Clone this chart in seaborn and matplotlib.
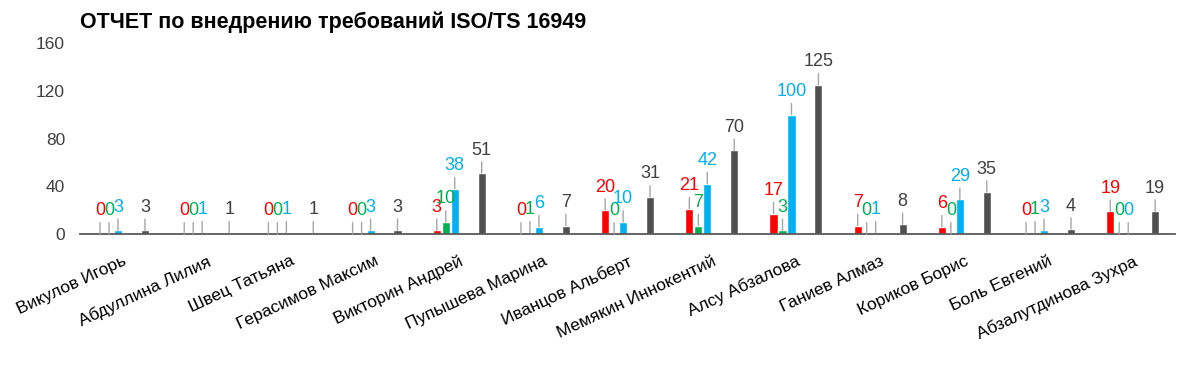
import pandas as pd
import seaborn as sns
import matplotlib.pyplot as plt

names = ["Викулов Игорь", "Абдуллина Лилия", "Швец Татьяна", "Герасимов Максим",
         "Викторин Андрей", "Пупышева Марина", "Иванцов Альберт", "Мемякин Иннокентий",
         "Алсу Абзалова", "Ганиев Алмаз", "Кориков Борис", "Боль Евгений",
         "Абзалутдинова Зухра"]
red_vals = [0, 0, 0, 0, 3, 0, 20, 21, 17, 7, 6, 0, 19]
green_vals = [0, 0, 0, 0, 10, 1, 0, 7, 3, 0, 0, 1, 0]
blue_vals = [3, 1, 1, 3, 38, 6, 10, 42, 100, 1, 29, 3, 0]
purple_vals = [0, 0, 0, 0, 0, 0, 0, 0, 1, 0, 0, 0, 0]
teal_vals = [0, 0, 0, 0, 0, 0, 0, 0, 2, 0, 0, 0, 0]
total_vals = [3, 1, 1, 3, 51, 7, 31, 70, 125, 8, 35, 4, 19]

series = ["s1", "s2", "s3", "s4", "s5", "total"]
colors = ["#FF0000", "#00B050", "#00B0F0", "#7030A0", "#4BACC6", "#505050"]
label_colors = {"s1": "#FF0000", "s2": "#00B050", "s3": "#00B0F0", "total": "#404040"}

rows = []
for s, vals in zip(series, [red_vals, green_vals, blue_vals, purple_vals, teal_vals, total_vals]):
    for n, v in zip(names, vals):
        rows.append({"name": n, "series": s, "value": v})
df = pd.DataFrame(rows)

sns.set_style("white")
plt.rcParams["font.family"] = ["Liberation Sans", "DejaVu Sans"]

fig = plt.figure(figsize=(12, 3.65), dpi=100)
ax = fig.add_axes([0.067, 0.359, 0.912, 0.523])
sns.barplot(data=df, x="name", y="value", hue="series", hue_order=series,
            palette=colors, saturation=1, width=0.64, gap=0.1, legend=False, ax=ax)

for s, cont in zip(series, ax.containers):
    if s not in label_colors:
        continue
    for bar in cont:
        h = bar.get_height()
        xc = bar.get_x() + bar.get_width() / 2
        ax.annotate(f"{int(round(h))}", xy=(xc, h), xytext=(0, 10.5),
                    textcoords="offset points", ha="center", va="bottom",
                    fontsize=13, color=label_colors[s],
                    arrowprops=dict(arrowstyle="-", color="#A6A6A6", lw=1,
                                    shrinkA=0, shrinkB=0))

ax.set_ylim(0, 160)
ax.set_yticks([0, 40, 80, 120, 160])
ax.set_xlim(-0.5, len(names) - 0.5)
ax.set_xlabel("")
ax.set_ylabel("")
for sp in ["top", "right", "left"]:
    ax.spines[sp].set_visible(False)
ax.spines["bottom"].set_color("#595959")
ax.spines["bottom"].set_linewidth(1.3)
ax.tick_params(axis="y", labelsize=12.5, labelcolor="#404040", length=0, pad=11)
ax.tick_params(axis="x", labelsize=12.5, labelcolor="#000000", length=0, pad=14)
for lbl in ax.get_xticklabels():
    lbl.set_rotation(25)
    lbl.set_ha("right")
    lbl.set_rotation_mode("anchor")

fig.text(0.067, 0.94, "ОТЧЕТ по внедрению требований ISO/TS 16949",
         fontsize=15.5, fontweight="bold", color="black", ha="left", va="center")

fig.savefig("out.png", dpi=100)
